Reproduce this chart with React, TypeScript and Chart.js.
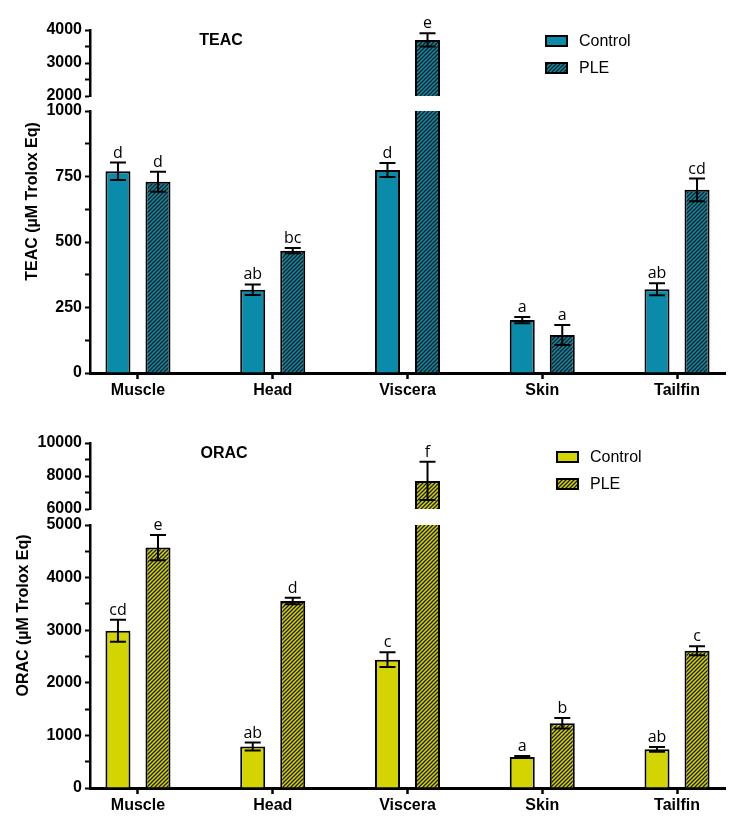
import React, { useEffect, useRef } from 'react';
import { Chart, registerables } from 'chart.js';

Chart.register(...registerables);

// ---------- data ----------
const categories = ['Muscle', 'Head', 'Viscera', 'Skin', 'Tailfin'];
const seriesLabels = ['Control', 'PLE'];

const teacControl = [770, 318, 775, 202, 320];
const teacControlErr = [33, 20, 27, 12, 23];
const teacControlLetters = ['d', 'ab', 'd', 'a', 'ab'];
const teacPLE = [730, 467, 3700, 145, 699];
const teacPLEErr = [38, 10, 200, 38, 43];
const teacPLELetters = ['d', 'bc', 'e', 'a', 'cd'];

const oracControl = [2990, 790, 2440, 590, 735];
const oracControlErr = [210, 75, 140, 20, 45];
const oracControlLetters = ['cd', 'ab', 'c', 'a', 'ab'];
const oracPLE = [4570, 3555, 7700, 1230, 2610];
const oracPLEErr = [240, 60, 1160, 100, 85];
const oracPLELetters = ['e', 'd', 'f', 'b', 'c'];

const teacUpperTicks = [2000, 3000, 4000];
const teacLowerTicks = [0, 250, 500, 750, 1000];
const oracUpperTicks = [6000, 8000, 10000];
const oracLowerTicks = [0, 1000, 2000, 3000, 4000, 5000];

// ---------- styling ----------
const W = 736;
const SANS = "'Liberation Sans', Arial, sans-serif";
const LETTER_FONT = "'Open Sans', sans-serif";
const Y_AXIS_W = 90;
const X_AXIS_H = 30;
const PAD_RIGHT = 11;
const X_MIN = -0.356;
const X_MAX = 4.356;

type Seg = { ticks: number[]; minor: number };
type PanelDef = {
  title: string;
  yTitle: string;
  color: string;
  control: number[]; controlErr: number[]; controlLetters: string[];
  ple: number[]; pleErr: number[]; pleLetters: string[];
  upper: Seg; lower: Seg;
  top: number; height: number;
  upperTop: number; upperBottom: number; lowerTop: number; lowerBottom: number;
  titleX: number; titleY: number;
  legendX: number; legendY: number;
  yTitleX: number;
};

const panels: PanelDef[] = [
  {
    title: 'TEAC', yTitle: 'TEAC (\u00B5M Trolox Eq)', color: '#0A8BAA',
    control: teacControl, controlErr: teacControlErr, controlLetters: teacControlLetters,
    ple: teacPLE, pleErr: teacPLEErr, pleLetters: teacPLELetters,
    upper: { ticks: teacUpperTicks, minor: 500 }, lower: { ticks: teacLowerTicks, minor: 125 },
    top: 0, height: 410,
    upperTop: 30, upperBottom: 96, lowerTop: 111, lowerBottom: 373,
    titleX: 221, titleY: 41, legendX: 546, legendY: 41, yTitleX: 33,
  },
  {
    title: 'ORAC', yTitle: 'ORAC (\u00B5M Trolox Eq)', color: '#D4D400',
    control: oracControl, controlErr: oracControlErr, controlLetters: oracControlLetters,
    ple: oracPLE, pleErr: oracPLEErr, pleLetters: oracPLELetters,
    upper: { ticks: oracUpperTicks, minor: 1000 }, lower: { ticks: oracLowerTicks, minor: 500 },
    top: 410, height: 417,
    upperTop: 33, upperBottom: 99, lowerTop: 115, lowerBottom: 378,
    titleX: 224, titleY: 44, legendX: 557, legendY: 47, yTitleX: 24,
  },
];

function makeHatch(ctx: CanvasRenderingContext2D, color: string) {
  const s = 4;
  const c = document.createElement('canvas');
  c.width = s; c.height = s;
  const g = c.getContext('2d')!;
  g.fillStyle = color;
  g.fillRect(0, 0, s, s);
  g.strokeStyle = '#1a1a1a';
  g.lineWidth = 1.25;
  g.beginPath();
  g.moveTo(-1, s + 1); g.lineTo(s + 1, -1);
  g.moveTo(-1, 1); g.lineTo(1, -1);
  g.moveTo(s - 1, s + 1); g.lineTo(s + 1, s - 1);
  g.stroke();
  return ctx.createPattern(c, 'repeat')!;
}

const barAnnotations = {
  id: 'barAnnotations',
  afterDatasetsDraw(chart: any) {
    const ctx = chart.ctx;
    const y = chart.scales.y;
    chart.data.datasets.forEach((ds: any, di: number) => {
      const meta = chart.getDatasetMeta(di);
      meta.data.forEach((bar: any, i: number) => {
        const v = ds.data[i].y;
        const e = ds.err[i];
        if (v < y.min || v > y.max) return;
        const x = bar.x;
        const yt = y.getPixelForValue(v + e);
        const yb = y.getPixelForValue(v - e);
        ctx.save();
        ctx.strokeStyle = '#000';
        ctx.lineWidth = 2;
        ctx.beginPath();
        ctx.moveTo(x, yb); ctx.lineTo(x, yt);
        ctx.moveTo(x - 8, yt); ctx.lineTo(x + 8, yt);
        ctx.moveTo(x - 8, yb); ctx.lineTo(x + 8, yb);
        ctx.stroke();
        ctx.fillStyle = '#000';
        ctx.font = `16px ${LETTER_FONT}`;
        ctx.textAlign = 'center';
        ctx.textBaseline = 'alphabetic';
        ctx.fillText(ds.letters[i], x, yt - 5);
        ctx.restore();
      });
    });
  },
};

const panelDeco = {
  id: 'panelDeco',
  afterDraw(chart: any, _args: any, opts: any) {
    const ctx = chart.ctx;
    ctx.save();
    ctx.fillStyle = '#000';
    ctx.font = `bold 16px ${SANS}`;
    ctx.textAlign = 'center';
    ctx.textBaseline = 'middle';
    ctx.fillText(opts.title, opts.titleX, opts.titleY);
    chart.data.datasets.forEach((ds: any, i: number) => {
      const cy = opts.legendY + i * 27;
      ctx.fillStyle = ds.backgroundColor;
      ctx.fillRect(opts.legendX, cy - 5, 21, 10);
      ctx.strokeStyle = '#000';
      ctx.lineWidth = 2;
      ctx.strokeRect(opts.legendX, cy - 5, 21, 10);
      ctx.fillStyle = '#000';
      ctx.font = `16px ${SANS}`;
      ctx.textAlign = 'left';
      ctx.textBaseline = 'middle';
      ctx.fillText(ds.label, opts.legendX + 33, cy + 1);
    });
    ctx.restore();
  },
};

const yTitlePlugin = {
  id: 'yTitle',
  afterDraw(chart: any, _args: any, opts: any) {
    const ctx = chart.ctx;
    ctx.save();
    ctx.translate(opts.x, opts.y);
    ctx.rotate(-Math.PI / 2);
    ctx.fillStyle = '#000';
    ctx.font = `bold 16px ${SANS}`;
    ctx.textAlign = 'center';
    ctx.textBaseline = 'middle';
    ctx.fillText(opts.text, 0, 0);
    ctx.restore();
  },
};

function buildChart(canvas: HTMLCanvasElement, def: PanelDef, upper: boolean) {
  const ctx = canvas.getContext('2d')!;
  const seg = upper ? def.upper : def.lower;
  const hatch = makeHatch(ctx, def.color);
  const barStyle = {
    borderColor: '#000',
    borderWidth: 2,
    borderSkipped: 'start',
    categoryPercentage: 0.594,
    barPercentage: 0.625,
    clip: 0,
  };
  const toPts = (arr: number[]) => arr.map((y, i) => ({ x: i, y }));
  return new Chart(ctx, {
    type: 'bar',
    data: {
      datasets: [
        { label: seriesLabels[0], data: toPts(def.control), err: def.controlErr, letters: def.controlLetters, backgroundColor: def.color, ...barStyle } as any,
        { label: seriesLabels[1], data: toPts(def.ple), err: def.pleErr, letters: def.pleLetters, backgroundColor: hatch, ...barStyle } as any,
      ],
    },
    options: {
      animation: false,
      responsive: false,
      layout: {
        padding: {
          left: 0,
          right: PAD_RIGHT,
          top: upper ? def.upperTop : def.lowerTop,
          bottom: upper ? def.height - def.upperBottom : def.height - def.lowerBottom - X_AXIS_H,
        },
      },
      plugins: {
        legend: { display: false },
        tooltip: { enabled: false },
        title: { display: false },
        panelDeco: upper
          ? { title: def.title, titleX: def.titleX, titleY: def.titleY, legendX: def.legendX, legendY: def.legendY }
          : false,
        yTitle: upper
          ? false
          : { text: def.yTitle, x: def.yTitleX, y: (def.upperTop + def.lowerBottom) / 2 },
      } as any,
      scales: {
        x: {
          type: 'linear',
          display: !upper,
          offset: false,
          bounds: 'ticks',
          grid: { offset: false, drawOnChartArea: false, drawTicks: true, tickLength: 6, tickColor: '#000', tickWidth: 2.5 },
          border: { display: true, color: '#000', width: 3 },
          ticks: {
            autoSkip: false,
            maxRotation: 0,
            padding: 2,
            color: '#000',
            font: { family: SANS, size: 16, weight: 'bold' },
            callback: (v: any) => categories[v] ?? '',
          },
          afterBuildTicks: (s: any) => {
            s.ticks = categories.map((_, i) => ({ value: i }));
            s.min = X_MIN;
            s.max = X_MAX;
          },
          afterFit: (s: any) => {
            if (!upper) s.height = X_AXIS_H;
          },
        },
        y: {
          type: 'linear',
          min: seg.ticks[0],
          max: seg.ticks[seg.ticks.length - 1],
          ticks: {
            stepSize: seg.minor,
            autoSkip: false,
            padding: 3,
            color: '#000',
            font: { family: SANS, size: 16, weight: 'bold' },
            callback: (v: any) => (seg.ticks.includes(Number(v)) ? String(v) : ''),
          },
          grid: { drawOnChartArea: false, drawTicks: true, tickLength: 5, tickColor: '#000', tickWidth: 2 },
          border: { display: true, color: '#000', width: 2.5 },
          afterFit: (s: any) => {
            s.width = Y_AXIS_W;
          },
        },
      } as any,
    },
    plugins: upper ? [barAnnotations, panelDeco] : [barAnnotations, yTitlePlugin],
  } as any);
}

function Panel({ def }: { def: PanelDef }) {
  const upperRef = useRef<HTMLCanvasElement>(null);
  const lowerRef = useRef<HTMLCanvasElement>(null);
  useEffect(() => {
    const lower = buildChart(lowerRef.current!, def, false);
    const upper = buildChart(upperRef.current!, def, true);
    return () => {
      upper.destroy();
      lower.destroy();
    };
  }, [def]);
  const cs: React.CSSProperties = { position: 'absolute', left: 0, top: 0, display: 'block' };
  return (
    <div style={{ position: 'absolute', left: 0, top: def.top, width: W, height: def.height }}>
      <canvas ref={lowerRef} width={W} height={def.height} style={cs} />
      <canvas ref={upperRef} width={W} height={def.height} style={cs} />
    </div>
  );
}

export default function App() {
  return (
    <div style={{ position: 'absolute', left: 0, top: 0, width: W, height: 827, overflow: 'hidden', background: '#fff' }}>
      {panels.map((p) => (
        <Panel key={p.title} def={p} />
      ))}
    </div>
  );
}
